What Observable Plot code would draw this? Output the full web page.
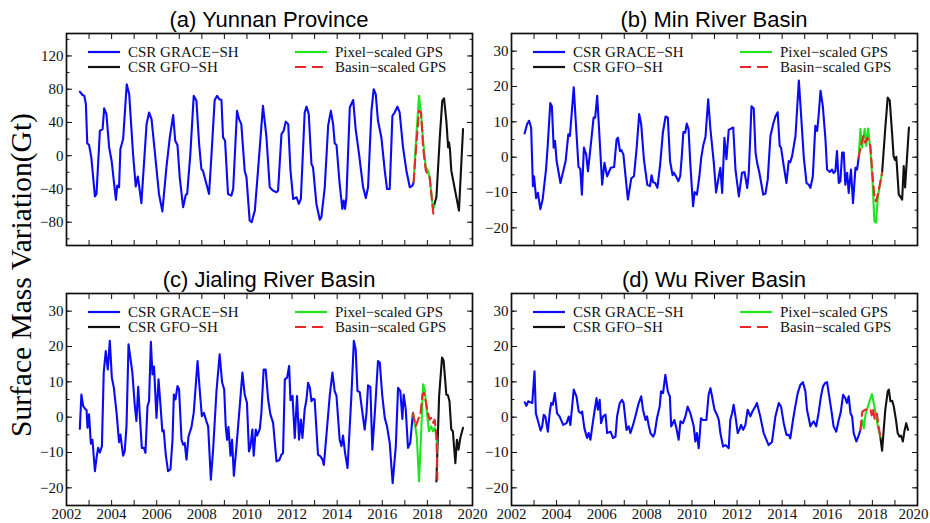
<!DOCTYPE html>
<html><head><meta charset="utf-8">
<script src="https://cdn.jsdelivr.net/npm/d3@7"></script>
<script src="https://cdn.jsdelivr.net/npm/@observablehq/plot@0.6"></script>
<style>
body{margin:0;background:#fff;}
#wrap{position:relative;width:930px;height:523px;overflow:hidden;background:#fff;}
.pl{position:absolute;}
.title{position:absolute;font-family:"Liberation Sans",Arial,sans-serif;font-size:22px;white-space:nowrap;transform:translateX(-50%);line-height:1;}
.ylab{position:absolute;font-family:"Liberation Serif","Times New Roman",serif;font-size:29.5px;white-space:nowrap;transform:translate(-50%,-50%) rotate(-90deg);line-height:1;}
.leg{position:absolute;overflow:visible;}
</style></head><body><div id="wrap"></div>
<script>
// ---------- data (year, value in Gt) ----------
const graceA = [[2002.59,77],[2002.71,73],[2002.79,72],[2002.86,62],[2002.92,15],[2003.0,13],[2003.1,-2],[2003.26,-49],[2003.33,-46],[2003.48,30],[2003.6,32],[2003.67,57],[2003.77,50],[2003.89,10],[2004.0,-6],[2004.19,-53],[2004.25,-36],[2004.33,-38],[2004.39,8],[2004.51,20],[2004.67,86],[2004.78,74],[2004.95,2],[2005.07,-37],[2005.16,-25],[2005.22,-36],[2005.32,-57],[2005.55,38],[2005.66,52],[2005.77,44],[2005.91,6],[2006.1,-46],[2006.25,-67],[2006.43,-14],[2006.58,22],[2006.73,49],[2006.82,18],[2006.92,13],[2007.02,-26],[2007.17,-62],[2007.29,-47],[2007.35,-46],[2007.49,2],[2007.64,72],[2007.76,66],[2007.88,14],[2007.98,-16],[2008.05,-18],[2008.32,-46],[2008.43,2],[2008.57,67],[2008.68,72],[2008.77,68],[2008.87,67],[2008.94,22],[2009.03,18],[2009.16,-46],[2009.31,-48],[2009.39,-40],[2009.56,54],[2009.65,44],[2009.75,38],[2009.9,-18],[2009.98,-26],[2010.12,-78],[2010.21,-80],[2010.35,-66],[2010.49,-18],[2010.71,60],[2010.86,24],[2011.01,-38],[2011.16,-42],[2011.31,-44],[2011.38,-42],[2011.53,26],[2011.63,30],[2011.72,41],[2011.83,38],[2011.93,-18],[2012.05,-52],[2012.2,-50],[2012.3,-58],[2012.39,-52],[2012.56,52],[2012.64,59],[2012.74,50],[2012.86,-10],[2012.93,-14],[2013.08,-58],[2013.23,-77],[2013.3,-74],[2013.45,-38],[2013.6,36],[2013.72,54],[2013.82,38],[2013.89,15],[2013.97,13],[2014.11,-34],[2014.23,-64],[2014.29,-54],[2014.35,-64],[2014.41,-50],[2014.56,58],[2014.71,67],[2014.82,32],[2014.97,2],[2015.15,-38],[2015.27,-51],[2015.37,-38],[2015.52,54],[2015.62,80],[2015.71,74],[2015.81,42],[2015.96,22],[2016.11,-18],[2016.21,-40],[2016.33,-40],[2016.45,48],[2016.55,52],[2016.67,59],[2016.77,52],[2016.92,10],[2017.07,-18],[2017.22,-38],[2017.34,-36],[2017.39,-32]];
const gfoA = [[2018.25,-64],[2018.4,-50],[2018.55,22],[2018.66,66],[2018.74,69],[2018.84,42],[2018.92,10],[2018.96,16],[2019.0,8],[2019.06,-18],[2019.2,-38],[2019.4,-66],[2019.58,32]];
const pixA = [[2017.39,-32],[2017.5,20],[2017.63,72],[2017.72,50],[2017.81,18],[2017.93,-14],[2018.03,-18],[2018.1,-26],[2018.25,-64],[2018.32,-60]];
const basA = [[2017.39,-32],[2017.5,10],[2017.63,54],[2017.72,52],[2017.81,10],[2017.93,-18],[2018.1,-26],[2018.28,-74]];

const graceB = [[2002.58,6.7],[2002.69,9.3],[2002.78,10.3],[2002.87,8.4],[2002.95,-8.2],[2003.0,-5.4],[2003.09,-11.6],[2003.17,-10.1],[2003.28,-14.7],[2003.38,-12],[2003.53,-3.5],[2003.6,2.7],[2003.72,15.3],[2003.79,14.4],[2003.87,2.7],[2003.93,4.6],[2004.0,-1.1],[2004.17,-7.3],[2004.4,-1.1],[2004.52,6.5],[2004.59,6],[2004.76,19.8],[2004.87,7.9],[2004.97,-2.7],[2005.05,-3.3],[2005.12,-10.6],[2005.21,2.7],[2005.31,0.8],[2005.39,-4],[2005.54,5],[2005.64,11.2],[2005.71,11.2],[2005.8,17.4],[2005.92,3.6],[2006.02,-7.8],[2006.12,-1.6],[2006.24,-5.4],[2006.3,-4.5],[2006.4,-3],[2006.55,-2.8],[2006.66,5.1],[2006.72,5.5],[2006.81,1.7],[2006.87,2],[2006.96,0.8],[2007.16,-12],[2007.31,-6],[2007.43,-5.4],[2007.55,2.7],[2007.66,12.2],[2007.75,9.3],[2007.87,-0.6],[2008.02,-7.8],[2008.14,-8.2],[2008.21,-5.1],[2008.28,-7.1],[2008.37,-7.3],[2008.47,-8.7],[2008.59,-2.1],[2008.71,6.9],[2008.83,11.5],[2008.93,11.2],[2009.03,-1.1],[2009.14,-5.1],[2009.2,-4.4],[2009.3,-5.5],[2009.4,-6.8],[2009.48,-5.4],[2009.55,0.3],[2009.62,7.1],[2009.7,6.9],[2009.77,9.5],[2009.85,7.9],[2009.93,-2.1],[2010.05,-13.9],[2010.12,-9.9],[2010.22,-10.6],[2010.33,-5.4],[2010.41,-0.2],[2010.51,3.6],[2010.6,5.7],[2010.72,16.4],[2010.82,7.9],[2010.97,-1.6],[2011.07,-10],[2011.19,-5.4],[2011.26,-3],[2011.34,-10.1],[2011.44,5.5],[2011.53,-0.6],[2011.63,7.7],[2011.74,8.1],[2011.83,8.4],[2011.93,-3.5],[2012.08,-11.1],[2012.22,-4.4],[2012.33,-4.2],[2012.45,-8.7],[2012.52,-4.4],[2012.64,14.4],[2012.74,13.8],[2012.82,1.3],[2012.89,-1.6],[2012.99,-4.4],[2013.16,-10.6],[2013.26,-10.3],[2013.36,-6.3],[2013.48,6],[2013.6,9.3],[2013.7,11.5],[2013.8,12.7],[2013.89,3.2],[2013.95,2.7],[2014.07,-2.5],[2014.19,-7.3],[2014.29,-1.1],[2014.36,-1.4],[2014.44,0.3],[2014.59,6],[2014.74,21.7],[2014.85,10.8],[2014.96,-0.2],[2015.08,-7.3],[2015.18,-7.8],[2015.25,-8.7],[2015.36,-5.4],[2015.47,8.9],[2015.55,7.4],[2015.62,12],[2015.7,18.8],[2015.8,14.6],[2015.92,5],[2015.99,-3.5],[2016.11,-4.2],[2016.21,-3.5],[2016.28,-4.5],[2016.36,-4],[2016.43,1.7],[2016.51,-7.3],[2016.58,-6.8],[2016.66,1.3],[2016.73,1.3],[2016.8,-7.8],[2016.88,-4.4],[2016.95,-10.1],[2017.05,-3.5],[2017.14,-13],[2017.25,-3],[2017.32,-3.5],[2017.39,-0.2]];
const gfoB = [[2018.43,-4.4],[2018.58,8.9],[2018.68,16.9],[2018.77,16],[2018.87,7],[2018.94,0.3],[2019.0,-0.8],[2019.06,0.1],[2019.17,-10.6],[2019.24,-11.2],[2019.32,-12],[2019.39,-2.5],[2019.45,-8.6],[2019.62,8.4]];
const pixB = [[2017.39,-0.2],[2017.47,8],[2017.54,2.7],[2017.66,8],[2017.73,3.2],[2017.81,8.1],[2017.91,2.2],[2018.01,-7.3],[2018.09,-18.2],[2018.16,-18.5],[2018.24,-11.6],[2018.32,-8.2],[2018.43,-4.4]];
const basB = [[2017.39,-0.2],[2017.5,3.6],[2017.6,6],[2017.68,4.1],[2017.78,5.5],[2017.91,3.2],[2018.01,-5.4],[2018.09,-11.1],[2018.16,-12.5],[2018.24,-10.6],[2018.32,-8.2],[2018.43,-4.4]];

const graceC = [[2002.59,-3.3],[2002.66,6.4],[2002.74,3.1],[2002.82,2.4],[2002.89,2],[2002.93,-3],[2003.0,0.8],[2003.08,-7.5],[2003.15,-6.4],[2003.26,-15.3],[2003.33,-11.6],[2003.4,-8.7],[2003.48,-10],[2003.57,-8.2],[2003.65,12.6],[2003.74,18.7],[2003.83,13.5],[2003.92,21.6],[2004.01,11.2],[2004.1,8.3],[2004.22,1.2],[2004.33,-7.1],[2004.39,-4.9],[2004.51,-10.9],[2004.58,-9.7],[2004.66,-2.6],[2004.75,20.6],[2004.84,16.4],[2004.92,12.6],[2005.03,3.1],[2005.1,-1.1],[2005.18,8.6],[2005.25,0.5],[2005.34,-8.7],[2005.43,-8.7],[2005.5,-10.1],[2005.59,3.1],[2005.66,4.5],[2005.74,21.3],[2005.81,12.1],[2005.88,14.3],[2005.99,-0.2],[2006.08,10.7],[2006.17,3.1],[2006.25,-4],[2006.31,-3.7],[2006.4,-10.6],[2006.5,-15.3],[2006.61,-14.7],[2006.7,-6.4],[2006.76,6.4],[2006.83,5],[2006.92,8.8],[2006.99,7.9],[2007.1,-6.4],[2007.17,-7.8],[2007.24,-7.3],[2007.32,-12],[2007.41,-5.4],[2007.54,-2.8],[2007.64,1.2],[2007.81,15.9],[2007.91,7.4],[2008.0,0.3],[2008.09,1.2],[2008.2,-1.1],[2008.28,-2.6],[2008.4,-17.7],[2008.5,-9.2],[2008.65,7.4],[2008.79,17.8],[2008.9,9.8],[2008.99,7.9],[2009.06,-2.6],[2009.12,-6.4],[2009.18,-2.8],[2009.27,-10.9],[2009.34,-6.4],[2009.42,-16.6],[2009.53,-8.7],[2009.68,3.1],[2009.8,12.6],[2009.9,6.4],[2010.0,4.1],[2010.09,-9.7],[2010.15,-8.4],[2010.24,-3.5],[2010.3,-10.9],[2010.39,-3.5],[2010.45,-5.2],[2010.57,-3.3],[2010.64,1.2],[2010.74,13.5],[2010.83,13.5],[2010.94,5],[2011.04,0.8],[2011.16,-1.6],[2011.31,-12.5],[2011.43,-12.2],[2011.53,-10.6],[2011.6,-10.2],[2011.68,10.7],[2011.78,11.2],[2011.87,14.5],[2011.93,4.8],[2012.02,6],[2012.12,-5.9],[2012.22,6],[2012.31,-6.4],[2012.39,-0.7],[2012.46,-5.9],[2012.56,2.2],[2012.64,5],[2012.71,9.7],[2012.79,8.3],[2012.86,4.5],[2012.93,5.2],[2013.0,5],[2013.15,-10.6],[2013.26,-11.1],[2013.35,-12],[2013.41,-13.5],[2013.52,-5.4],[2013.67,6],[2013.79,12.6],[2013.89,7.4],[2013.97,6],[2014.11,-6.4],[2014.19,-8.2],[2014.26,-5.2],[2014.35,-10.1],[2014.46,-14.4],[2014.63,6],[2014.74,21.6],[2014.82,19.2],[2014.9,7.4],[2015.0,7.1],[2015.12,1.2],[2015.22,-3.5],[2015.3,1.2],[2015.37,9],[2015.47,8.6],[2015.56,-9.2],[2015.67,1.2],[2015.81,15.9],[2015.89,15.4],[2016.0,6],[2016.11,-0.2],[2016.21,-2.6],[2016.33,-7.3],[2016.46,-18.7],[2016.6,-8.2],[2016.7,8.3],[2016.8,7.4],[2016.89,-0.5],[2016.95,6.4],[2017.04,2.2],[2017.14,-8.7],[2017.24,-7.3],[2017.36,1.2]];
const gfoC = [[2018.4,-18.2],[2018.52,6],[2018.65,16.9],[2018.72,16],[2018.84,6.4],[2018.91,6.2],[2018.98,4.5],[2019.06,-3.5],[2019.13,-4],[2019.24,-13],[2019.31,-6.4],[2019.38,-9.2],[2019.46,-5.9],[2019.58,-3]];
const pixC = [[2017.36,1.2],[2017.53,-5.4],[2017.63,-18.2],[2017.73,-3.5],[2017.81,9.3],[2017.88,7.9],[2017.98,1.2],[2018.07,-4],[2018.16,-2.6],[2018.25,-4],[2018.32,-3],[2018.39,-4.9],[2018.44,-9.2]];
const basC = [[2017.36,1.2],[2017.48,-2.6],[2017.59,-0.7],[2017.69,0.7],[2017.78,6.4],[2017.84,6.9],[2017.93,4.5],[2018.02,1.2],[2018.1,-0.7],[2018.17,-0.2],[2018.25,-1.6],[2018.32,-0.7],[2018.39,-4.5],[2018.43,-12],[2018.44,-17.7]];

const graceD = [[2002.59,4.2],[2002.66,3.2],[2002.74,4.5],[2002.84,4.2],[2002.92,4],[2003.02,13],[2003.08,1.1],[2003.29,-3.8],[2003.36,-2.6],[2003.43,0.7],[2003.5,0.2],[2003.61,-4.1],[2003.7,1.6],[2003.76,4],[2003.83,3.5],[2003.92,6.8],[2004.02,1.1],[2004.13,0.2],[2004.29,-2.2],[2004.44,-1.7],[2004.54,0.2],[2004.61,-2.2],[2004.76,7.8],[2004.88,5.9],[2004.98,1.6],[2005.09,1.1],[2005.13,1.6],[2005.23,-3.1],[2005.35,-5.9],[2005.42,-4.5],[2005.5,-6.4],[2005.57,-3.1],[2005.69,2.1],[2005.77,5.4],[2005.83,2.1],[2005.91,4.9],[2005.97,-1.7],[2006.06,0.2],[2006.17,0.7],[2006.24,-4.5],[2006.39,-4.1],[2006.5,-5.9],[2006.61,-5.5],[2006.68,0.2],[2006.8,4],[2006.9,4.9],[2006.97,4],[2007.1,-3.6],[2007.2,-2.6],[2007.27,-4.5],[2007.39,-2.2],[2007.49,0.2],[2007.64,4],[2007.75,5.9],[2007.83,2.1],[2007.94,-0.8],[2008.01,0.2],[2008.09,-2.6],[2008.16,-4.5],[2008.28,-5.5],[2008.35,-4.5],[2008.45,-0.3],[2008.57,3],[2008.63,7.3],[2008.72,6.8],[2008.82,12],[2008.93,7.3],[2009.02,5.9],[2009.08,-2.6],[2009.15,-1.7],[2009.22,-0.8],[2009.31,-3.1],[2009.41,-6.4],[2009.49,-1.2],[2009.6,-1.7],[2009.71,0.2],[2009.81,3],[2009.93,1.1],[2010.08,-2.6],[2010.15,-6.9],[2010.22,-4.5],[2010.3,-8.8],[2010.4,-0.3],[2010.49,-0.8],[2010.64,-0.8],[2010.74,6.4],[2010.82,8.2],[2010.89,5.9],[2011.0,2.1],[2011.11,0.7],[2011.19,-0.8],[2011.26,-4.5],[2011.38,-8.3],[2011.48,-7.9],[2011.56,-8.3],[2011.63,-8.8],[2011.7,-0.8],[2011.78,1.1],[2011.85,3.5],[2011.93,0.2],[2012.03,-4.5],[2012.1,-3.6],[2012.18,-2.2],[2012.27,-3.6],[2012.37,-2.2],[2012.47,2.1],[2012.59,0.2],[2012.68,1.6],[2012.81,3],[2012.88,4],[2013.03,0.2],[2013.18,-4.5],[2013.4,-7.9],[2013.55,-7],[2013.7,0.2],[2013.85,4],[2013.95,3],[2014.07,-1.7],[2014.19,-5],[2014.29,-5],[2014.36,-6],[2014.48,-0.8],[2014.58,3],[2014.69,6.8],[2014.81,9.2],[2014.92,9.9],[2015.03,7.3],[2015.1,2.1],[2015.18,-0.3],[2015.25,-2.6],[2015.33,-1.7],[2015.4,-1.2],[2015.51,-2.6],[2015.62,1.4],[2015.72,5.9],[2015.81,8.7],[2015.91,9.7],[2015.99,9.9],[2016.11,4.9],[2016.2,1.1],[2016.28,-2.6],[2016.4,-4.1],[2016.5,-1],[2016.6,1.5],[2016.7,6.3],[2016.8,5.4],[2016.87,4],[2016.95,5.9],[2017.03,1.1],[2017.1,0.2],[2017.17,-4.5],[2017.29,-6.9],[2017.39,-5.2],[2017.47,-3.6]];
const gfoD = [[2018.35,-5.5],[2018.43,-9.5],[2018.57,2],[2018.68,7.3],[2018.73,7.8],[2018.8,4.5],[2018.88,4.6],[2018.95,3],[2019.05,-1],[2019.12,-4.5],[2019.2,-5.5],[2019.27,-5.2],[2019.35,-6.9],[2019.42,-4],[2019.5,-1.7],[2019.58,-3.6]];
const pixD = [[2017.47,-3.6],[2017.55,-0.8],[2017.62,-3.1],[2017.7,1],[2017.8,3],[2017.9,5],[2017.98,6.5],[2018.06,4],[2018.15,1],[2018.25,-3],[2018.35,-5.5]];
const basD = [[2017.47,-3.6],[2017.55,1.5],[2017.65,2],[2017.75,2.2],[2017.85,2.4],[2017.92,2],[2017.97,0.5],[2018.02,2.5],[2018.1,-0.5],[2018.2,1],[2018.28,-2.7],[2018.35,-5.5]];

// ---------- labels / ticks ----------
const titles = ["(a) Yunnan Province", "(b) Min River Basin", "(c) Jialing River Basin", "(d) Wu River Basin"];
const legendLabels = ["CSR GRACE\u2212SH", "CSR GFO\u2212SH", "Pixel\u2212scaled GPS", "Basin\u2212scaled GPS"];
const yLabel = "Surface Mass Variation(Gt)";
const xDomain = [2002, 2020];
const xTickYears = d3.range(2003, 2020, 1);
const xLabelYears = d3.range(2002, 2019, 2);
const xLastLabel = [2020];
const yDomainA = [-108, 147];
const yMajorA = [-80, -40, 0, 40, 80, 120];
const yMinorA = d3.range(-100, 141, 20);
const yDomainB = [-25, 35];
const yMajorB = [-20, -10, 0, 10, 20, 30];
const yMinorB = d3.range(-20, 31, 5);

const BLUE = "#0a0af5", BLACK = "#111", GREEN = "#1fe51f", RED = "#e82828";

const panels = [
  {grace: graceA, gfo: gfoA, pix: pixA, bas: basA, yDomain: yDomainA, yMajor: yMajorA, yMinor: yMinorA, showX: false, left: 0, top: 0, w: 480, h: 260, ml: 66, mr: 8, mt: 33, mb: 15, lastDx: 0},
  {grace: graceB, gfo: gfoB, pix: pixB, bas: basB, yDomain: yDomainB, yMajor: yMajorB, yMinor: yMinorB, showX: false, left: 480, top: 0, w: 450, h: 260, ml: 31, mr: 13, mt: 33, mb: 15, lastDx: 0},
  {grace: graceC, gfo: gfoC, pix: pixC, bas: basC, yDomain: yDomainB, yMajor: yMajorB, yMinor: yMinorB, showX: true, left: 0, top: 260, w: 480, h: 263, ml: 66, mr: 8, mt: 33, mb: 18, lastDx: 0},
  {grace: graceD, gfo: gfoD, pix: pixD, bas: basD, yDomain: yDomainB, yMajor: yMajorB, yMinor: yMinorB, showX: true, left: 480, top: 260, w: 450, h: 263, ml: 31, mr: 13, mt: 33, mb: 18, lastDx: -4}
];

const wrap = document.getElementById("wrap");
const X = d => d[0], Y = d => d[1];
const blank = () => "";

panels.forEach((p, i) => {
  const marks = [
    Plot.line(p.grace, {x: X, y: Y, stroke: BLUE, strokeWidth: 2.1, strokeLinejoin: "round"}),
    Plot.line(p.gfo, {x: X, y: Y, stroke: BLACK, strokeWidth: 2.1, strokeLinejoin: "round"}),
    Plot.line(p.pix, {x: X, y: Y, stroke: GREEN, strokeWidth: 2.1, strokeLinejoin: "round"}),
    Plot.line(p.bas, {x: X, y: Y, stroke: RED, strokeWidth: 2.1, strokeDasharray: "9,5"}),
    Plot.axisX(xTickYears, {anchor: "bottom", tickSize: -5, tickFormat: blank, label: null, strokeWidth: 1}),
    Plot.axisX(xTickYears, {anchor: "top", tickSize: -5, tickFormat: blank, label: null, strokeWidth: 1}),
    Plot.axisY(p.yMinor, {anchor: "left", tickSize: -3.5, tickFormat: blank, label: null}),
    Plot.axisY(p.yMinor, {anchor: "right", tickSize: -3.5, tickFormat: blank, label: null}),
    Plot.axisY(p.yMajor, {anchor: "left", tickSize: -6, tickFormat: blank, label: null}),
    Plot.axisY(p.yMajor, {anchor: "right", tickSize: -6, tickFormat: blank, label: null}),
    Plot.axisY(p.yMajor, {anchor: "left", tickSize: 0, tickPadding: 3, label: null}),
    Plot.frame({stroke: "#111", strokeWidth: 1.7})
  ];
  if (p.showX) {
    marks.push(Plot.axisX(xLabelYears, {anchor: "bottom", tickSize: 0, tickPadding: 3, tickFormat: "d", label: null}));
    marks.push(Plot.axisX(xLastLabel, {anchor: "bottom", tickSize: 0, tickPadding: 3, tickFormat: "d", label: null, dx: p.lastDx}));
  }
  const svg = Plot.plot({
    width: p.w, height: p.h,
    marginLeft: p.ml, marginRight: p.mr, marginTop: p.mt, marginBottom: p.mb,
    x: {domain: xDomain},
    y: {domain: p.yDomain},
    style: {fontFamily: "'Liberation Serif', 'Times New Roman', serif", fontSize: "15px", background: "transparent", overflow: "visible", color: "#111"},
    marks
  });
  svg.classList.add("pl");
  svg.style.left = p.left + "px";
  svg.style.top = p.top + "px";
  wrap.appendChild(svg);

  const fl = p.left + p.ml, fr = p.left + p.w - p.mr, ft = p.top + p.mt;
  // title
  const t = document.createElement("div");
  t.className = "title";
  t.textContent = titles[i];
  t.style.left = ((fl + fr) / 2) + "px";
  t.style.top = (ft - 24) + "px";
  wrap.appendChild(t);

  // legend
  const ns = "http://www.w3.org/2000/svg";
  const lg = document.createElementNS(ns, "svg");
  lg.setAttribute("class", "leg");
  lg.setAttribute("width", 360); lg.setAttribute("height", 50);
  lg.style.left = fl + "px"; lg.style.top = ft + "px";
  const items = [
    {c: BLUE, dash: null, x: 22, y: 19, label: legendLabels[0]},
    {c: BLACK, dash: null, x: 22, y: 34, label: legendLabels[1]},
    {c: GREEN, dash: null, x: 229, y: 19, label: legendLabels[2]},
    {c: RED, dash: "11,6", x: 229, y: 34, label: legendLabels[3]}
  ];
  items.forEach(it => {
    const ln = document.createElementNS(ns, "line");
    ln.setAttribute("x1", it.x); ln.setAttribute("x2", it.x + 32);
    ln.setAttribute("y1", it.y); ln.setAttribute("y2", it.y);
    ln.setAttribute("stroke", it.c); ln.setAttribute("stroke-width", 2.2);
    if (it.dash) ln.setAttribute("stroke-dasharray", it.dash);
    lg.appendChild(ln);
    const tx = document.createElementNS(ns, "text");
    tx.setAttribute("x", it.x + 40); tx.setAttribute("y", it.y + 5);
    tx.setAttribute("font-family", "'Liberation Serif', 'Times New Roman', serif");
    tx.setAttribute("font-size", "15px");
    tx.setAttribute("fill", "#111");
    tx.textContent = it.label;
    lg.appendChild(tx);
  });
  wrap.appendChild(lg);
});

const yl = document.createElement("div");
yl.className = "ylab";
yl.textContent = yLabel;
yl.style.left = "22px";
yl.style.top = "275px";
wrap.appendChild(yl);
</script>
</body></html>
